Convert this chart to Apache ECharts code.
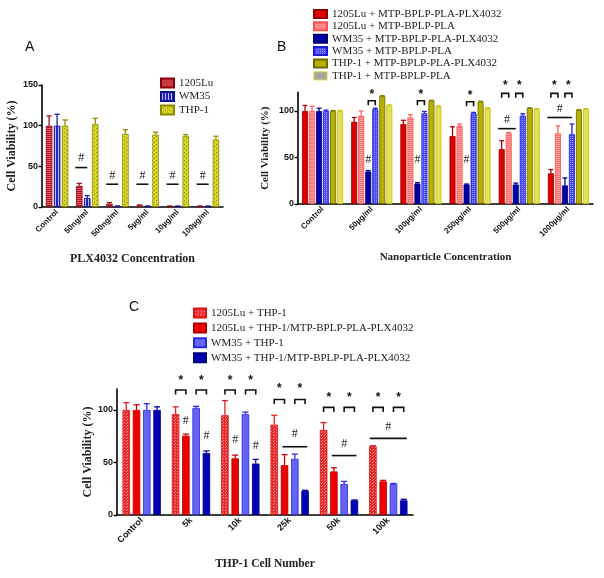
<!DOCTYPE html>
<html><head><meta charset="utf-8">
<script src="https://cdn.jsdelivr.net/npm/echarts@6/dist/echarts.min.js"></script>
<style>html,body{margin:0;padding:0;background:#fff}#c{width:604px;height:578px}</style>
</head><body><div id="c"></div>
<script>
// ---------- Panel A ----------
const catsA = ['Control','50ng/ml','500ng/ml','5µg/ml','10µg/ml','100µg/ml'];
const lu1205A = [100, 26, 4, 2, 1, 1];
const lu1205AErr = [12, 3, 1.5, 0.5, 0.3, 0.3];
const wm35A = [100, 11, 1, 1, 1, 1];
const wm35AErr = [14, 3, 0.3, 0.3, 0.3, 0.3];
const thp1A = [100, 102, 90, 89, 87, 83];
const thp1AErr = [7, 7, 5, 3, 2, 4];
// [category, lineValue, textValue, fromBar, toBar, kind(0 text,1 line+#,2 bracket+*)]
const annotA = [[1,48.5,60.5,-0.5,1,1],[2,28,38,-0.4,1.1,1],[3,28,38,-0.4,1.1,1],[4,28,38,-0.4,1.1,1],[5,28,38,-0.4,1.1,1]];
const ticksA = [0, 50, 100, 150];

// ---------- Panel B ----------
const catsB = ['Control','50µg/ml','100µg/ml','250µg/ml','500µg/ml','1000µg/ml'];
const luPlxB = [100, 88.5, 86, 73, 59, 33];
const luPlxBErr = [6, 4.5, 4, 10, 9, 4];
const luPlaB = [100, 95, 93, 84, 76, 76];
const luPlaBErr = [5, 5, 3, 2, 1, 8];
const wmPlxB = [100, 35, 22, 21, 21, 20];
const wmPlxBErr = [3, 1, 1, 0.5, 1.5, 8];
const wmPlaB = [100, 102, 97.5, 97.5, 95, 75];
const wmPlaBErr = [1, 1, 2, 1, 2, 11];
const thPlxB = [100, 116, 111, 110, 103, 101];
const thPlxBErr = [0.5, 0.5, 0.5, 0.5, 0.5, 0.5];
const thPlaB = [100, 106, 105, 103, 102, 102];
const thPlaBErr = [0.5, 0.5, 0.5, 0.5, 0.5, 0.5];
const annotB = [[1,48,48,2,2,0],[1,111,118,2,3,2],[2,48,48,2,2,0],[2,111,118,2,3,2],[3,48,48,2,2,0],[3,110,117,2,3,2],
  [4,119,127,0,1,2],[4,119,127,2,3,2],[4,81,90,-0.5,2,1],[5,119,127,0,1,2],[5,119,127,2,3,2],[5,93,102,-0.5,3,1]];
const ticksB = [0, 50, 100];

// ---------- Panel C ----------
const catsC = ['Control','5k','10k','25k','50k','100k'];
const luThpC = [100, 96, 95, 86, 81, 65.5];
const luThpCErr = [7, 7, 14, 9, 7, 0.5];
const luPlxC = [100, 75.5, 54, 47.5, 41.5, 32];
const luPlxCErr = [5, 1.5, 3, 10, 3.5, 1];
const wmThpC = [100, 102, 96, 53.5, 29.5, 29.5];
const wmThpCErr = [6, 1.5, 2, 4.5, 2.5, 0.5];
const wmPlxC = [100, 59, 49, 23, 14, 14];
const wmPlxCErr = [3, 2, 4, 0.5, 0.3, 1];
const annotC = [[1,119,128,0,1,2],[1,119,128,2,3,2],[1,90,90,1,1,0],[1,75,75,3,3,0],
  [2,119,128,0,1,2],[2,119,128,2,3,2],[2,72,72,1,1,0],[2,66,66,3,3,0],
  [3,110,120,0,1,2],[3,110,120,2,3,2],[3,65,77,0.8,3.2,1],
  [4,102.5,112,0,1,2],[4,102.5,112,2,3,2],[4,56.6,68,0.8,3.2,1],
  [5,102.5,112,0,1,2],[5,102.5,112,2,3,2],[5,73,84,-0.3,3.3,1]];
const ticksC = [0, 50, 100];

// ---------- styling helpers ----------
function pat(w, h, bg, draw) {
  const c = document.createElement('canvas'); c.width = w; c.height = h;
  const x = c.getContext('2d'); x.fillStyle = bg; x.fillRect(0, 0, w, h); draw(x);
  return { image: c, repeat: 'repeat' };
}
const SERIF = '"Liberation Serif","Times New Roman",serif';
const SANS = '"Liberation Sans",Arial,sans-serif';

const layout = {
  A: { n: 3, bw: 6.5, gap: 0.23 },
  B: { n: 6, bw: 6, gap: 0.17 },
  C: { n: 4, bw: 7.5, gap: 0.37 }
};
function offset(L, p) { return (p - (L.n - 1) / 2) * L.bw * (1 + L.gap); }

const series = [];
function addBar(panel, gi, idx, name, vals, errs, fill, border, errColor) {
  const L = layout[panel];
  series.push({
    type: 'bar', name, xAxisIndex: gi, yAxisIndex: gi, data: vals,
    barWidth: L.bw, barGap: (L.gap * 100) + '%',
    itemStyle: { color: fill, borderColor: border, borderWidth: 0.8 },
    emphasis: { disabled: true }, z: 2
  });
  series.push({
    type: 'custom', xAxisIndex: gi, yAxisIndex: gi, silent: true, z: 3,
    data: vals.map((v, i) => [i, v, errs[i]]),
    renderItem: function (params, api) {
      const base = api.coord([api.value(0), api.value(1)]);
      const top = api.coord([api.value(0), api.value(1) + api.value(2)]);
      const x = base[0] + offset(L, idx);
      const cw = L.bw * 0.4;
      return { type: 'group', children: [
        { type: 'line', shape: { x1: x, y1: base[1], x2: x, y2: top[1] }, style: { stroke: errColor, lineWidth: 1.3 } },
        { type: 'line', shape: { x1: x - cw, y1: top[1], x2: x + cw, y2: top[1] }, style: { stroke: errColor, lineWidth: 1.3 } }
      ] };
    }
  });
}
function addAnnot(panel, gi, rows) {
  const L = layout[panel];
  series.push({
    type: 'custom', xAxisIndex: gi, yAxisIndex: gi, silent: true, z: 4,
    data: rows,
    renderItem: function (params, api) {
      const cat = api.value(0), lv = api.value(1), tv = api.value(2), p1 = api.value(3), p2 = api.value(4), kind = api.value(5);
      const c = api.coord([cat, lv]);
      const t = api.coord([cat, tv]);
      const x1 = c[0] + offset(L, p1), x2 = c[0] + offset(L, p2);
      const mid = (x1 + x2) / 2;
      const ch = [];
      if (kind === 0) {
        ch.push({ type: 'text', style: { x: mid, y: t[1], text: '#', font: '12px ' + SERIF, fill: '#222', align: 'center', verticalAlign: 'middle' } });
      } else if (kind === 1) {
        ch.push({ type: 'line', shape: { x1, y1: c[1], x2, y2: c[1] }, style: { stroke: '#111', lineWidth: 1.6 } });
        ch.push({ type: 'text', style: { x: mid, y: t[1], text: '#', font: '12px ' + SERIF, fill: '#222', align: 'center', verticalAlign: 'middle' } });
      } else {
        const leg = 4.5;
        ch.push({ type: 'polyline', shape: { points: [[x1, c[1] + leg], [x1, c[1]], [x2, c[1]], [x2, c[1] + leg]] }, style: { stroke: '#111', lineWidth: 1.6, fill: null } });
        ch.push({ type: 'text', style: { x: mid, y: t[1], text: '*', font: 'bold 12px ' + SANS, fill: '#111', align: 'center', verticalAlign: 'middle' } });
      }
      return { type: 'group', children: ch };
    }
  });
}

// Panel A series
addBar('A', 0, 0, '1205Lu', lu1205A, lu1205AErr,
  pat(4, 2, '#b0101c', x => { x.fillStyle = '#e4606a'; x.fillRect(0, 0, 4, 1); }), '#8a0010', '#9a1020');
addBar('A', 0, 1, 'WM35', wm35A, wm35AErr,
  pat(3, 4, '#2424c8', x => { x.fillStyle = '#b8b8ff'; x.fillRect(1, 0, 1, 4); }), '#10108a', '#2020a0');
addBar('A', 0, 2, 'THP-1', thp1A, thp1AErr,
  pat(4, 4, '#d8d428', x => { x.fillStyle = '#8a8600'; x.fillRect(0, 0, 1, 1); x.fillRect(2, 2, 1, 1); }), '#8a8a00', '#909000');
addAnnot('A', 0, annotA);

// Panel B series
addBar('B', 1, 0, '1205Lu + MTP-BPLP-PLA-PLX4032', luPlxB, luPlxBErr, '#e00000', '#900000', '#b00000');
addBar('B', 1, 1, '1205Lu + MTP-BPLP-PLA', luPlaB, luPlaBErr,
  pat(4, 2, '#ff6c6c', x => { x.fillStyle = '#ffa4a4'; x.fillRect(0, 0, 4, 1); }), '#ff5050', '#ff6060');
addBar('B', 1, 2, 'WM35 + MTP-BPLP-PLA-PLX4032', wmPlxB, wmPlxBErr, '#0000a8', '#000070', '#0000a0');
addBar('B', 1, 3, 'WM35 + MTP-BPLP-PLA', wmPlaB, wmPlaBErr,
  pat(2, 2, '#4a4af4', x => { x.fillStyle = '#9c9cff'; x.fillRect(0, 0, 1, 1); }), '#1a1ad0', '#2020e0');
addBar('B', 1, 4, 'THP-1 + MTP-BPLP-PLA-PLX4032', thPlxB, thPlxBErr, '#b8b000', '#6c6a00', '#808000');
addBar('B', 1, 5, 'THP-1 + MTP-BPLP-PLA', thPlaB, thPlaBErr,
  pat(2, 2, '#e2de44', x => { x.fillStyle = '#eeea80'; x.fillRect(0, 0, 1, 1); }), '#c4c020', '#c8c400');
addAnnot('B', 1, annotB);

// Panel C series
addBar('C', 2, 0, '1205Lu + THP-1', luThpC, luThpCErr,
  pat(3, 3, '#e22828', x => { x.fillStyle = '#ff8c8c'; x.fillRect(0, 0, 1, 1); x.fillRect(1, 2, 1, 1); }), '#e01010', '#e02020');
addBar('C', 2, 1, '1205Lu + THP-1/MTP-BPLP-PLA-PLX4032', luPlxC, luPlxCErr, '#ee0000', '#b00000', '#d00000');
addBar('C', 2, 2, 'WM35 + THP-1', wmThpC, wmThpCErr, '#6464f4', '#2828e0', '#2a2ae8');
addBar('C', 2, 3, 'WM35 + THP-1/MTP-BPLP-PLA-PLX4032', wmPlxC, wmPlxCErr, '#0000b4', '#000080', '#0000a0');
addAnnot('C', 2, annotC);

// ---------- axes ----------
function xAx(gi, cats, name, gap, nameSize, labSize) {
  return {
    type: 'category', gridIndex: gi, data: cats,
    axisLine: { lineStyle: { color: '#000', width: 1.6 } },
    axisTick: { alignWithLabel: true, interval: 0, length: 3, lineStyle: { color: '#000', width: 1.2 } },
    axisLabel: { interval: 0, rotate: 45, margin: 4, color: '#111', fontFamily: SANS, fontWeight: 'bold', fontSize: labSize },
    name, nameLocation: 'middle', nameGap: gap,
    nameTextStyle: { fontFamily: SERIF, fontWeight: 'bold', fontSize: nameSize, color: '#222' }
  };
}
function yAx(gi, max, ticks, gap, nameSize) {
  return {
    type: 'value', gridIndex: gi, min: 0, max: max, interval: 50,
    axisLine: { show: true, lineStyle: { color: '#000', width: 1.6 } },
    axisTick: { show: true, length: 3.5, lineStyle: { color: '#000', width: 1.4 }, customValues: ticks },
    axisLabel: { color: '#111', fontFamily: SANS, fontWeight: 'bold', fontSize: 9, margin: 4, customValues: ticks },
    splitLine: { show: false },
    name: 'Cell Viability (%)', nameLocation: 'middle', nameGap: gap, nameRotate: 90,
    nameTextStyle: { fontFamily: SERIF, fontWeight: 'bold', fontSize: nameSize, color: '#222' }
  };
}

const legendText = (size, lh) => ({ fontFamily: SERIF, fontSize: size, color: '#222', lineHeight: lh });

const option = {
  animation: false,
  backgroundColor: '#fff',
  grid: [
    { left: 42, top: 85, width: 181, height: 122 },
    { left: 298, top: 92.4, width: 295, height: 111.6 },
    { left: 117, top: 389, width: 296, height: 126 }
  ],
  xAxis: [
    xAx(0, catsA, 'PLX4032 Concentration', 46, 12, 8),
    xAx(1, catsB, 'Nanoparticle Concentration', 48, 11, 8),
    xAx(2, catsC, 'THP-1 Cell Number', 43, 11.5, 9)
  ],
  yAxis: [
    yAx(0, 150, ticksA, 24, 12),
    yAx(1, 120, ticksB, 27, 11),
    yAx(2, 120, ticksC, 20, 12)
  ],
  legend: [
    { orient: 'vertical', left: 160, top: 77.5, padding: 0, icon: 'rect', itemWidth: 13, itemHeight: 9, itemGap: 2.5,
      data: ['1205Lu', 'WM35', 'THP-1'], textStyle: legendText(11, 11), selectedMode: false },
    { orient: 'vertical', left: 313, top: 8, padding: 0, icon: 'rect', itemWidth: 13, itemHeight: 8, itemGap: 0.6,
      data: ['1205Lu + MTP-BPLP-PLA-PLX4032', '1205Lu + MTP-BPLP-PLA', 'WM35 + MTP-BPLP-PLA-PLX4032', 'WM35 + MTP-BPLP-PLA',
        'THP-1 + MTP-BPLP-PLA-PLX4032', { name: 'THP-1 + MTP-BPLP-PLA', itemStyle: { color: '#a4a4a0', borderColor: '#d8d440', borderWidth: 1 } }],
      textStyle: legendText(11, 11.8), selectedMode: false },
    { orient: 'vertical', left: 193, top: 307, padding: 0, icon: 'rect', itemWidth: 12, itemHeight: 9, itemGap: 2.9,
      data: ['1205Lu + THP-1', '1205Lu + THP-1/MTP-BPLP-PLA-PLX4032', 'WM35 + THP-1', 'WM35 + THP-1/MTP-BPLP-PLA-PLX4032'],
      textStyle: legendText(11, 12), selectedMode: false }
  ],
  graphic: [
    { type: 'text', left: 25, top: 40, style: { text: 'A', font: '14px ' + SANS, fill: '#111' } },
    { type: 'text', left: 277, top: 40, style: { text: 'B', font: '14px ' + SANS, fill: '#111' } },
    { type: 'text', left: 129, top: 300, style: { text: 'C', font: '14px ' + SANS, fill: '#111' } }
  ],
  series
};
const chart = echarts.init(document.getElementById('c'), null, { renderer: 'canvas' });
chart.setOption(option);
</script>
</body></html>
